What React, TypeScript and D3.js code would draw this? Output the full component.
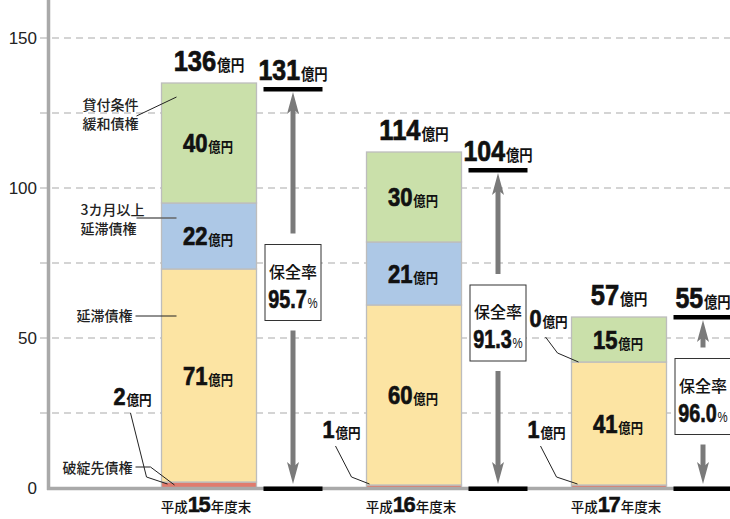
import React from "react";
import * as d3 from "d3";

// ---- data ----
const categories = ["平成15年度末", "平成16年度末", "平成17年度末"];
const eraPrefix = "平成";
const fiscalYears = ["15", "16", "17"];
const yearSuffix = "年度末";
const bankrupt = [2, 1, 1]; // 破綻先債権
const delinquent = [71, 60, 41]; // 延滞債権
const overdue3m = [22, 21, 0]; // 3カ月以上延滞債権
const restructured = [40, 30, 15]; // 貸付条件緩和債権
const totals = [136, 114, 57];
const secured = [131, 104, 55];
const coverageRates = ["95.7", "91.3", "96.0"];
const yTicks = [0, 50, 100, 150];
const gridValues = [25, 50, 75, 100, 125, 150];
const unit = "億円";

const keys = ["bankrupt", "delinquent", "overdue3m", "restructured"] as const;
const colors: Record<string, string> = {
  bankrupt: "#e07b6d",
  delinquent: "#fce4a3",
  overdue3m: "#adc8e6",
  restructured: "#cae0aa",
};

const table = categories.map((c, i) => ({
  cat: c,
  bankrupt: bankrupt[i],
  delinquent: delinquent[i],
  overdue3m: overdue3m[i],
  restructured: restructured[i],
}));

const W = 730;
const H = 519;
const NUM_FONT = "'Liberation Sans', Arial, sans-serif";
const JP_FONT = "'Noto Sans CJK JP', 'Noto Sans CJK SC', sans-serif";

function NumUnit(props: {
  x: number;
  y: number;
  num: string;
  numSize: number;
  unitSize: number;
  sx?: number;
  anchor?: string;
  unitText?: string;
  unitFont?: string;
  unitWeight?: number;
}) {
  const {
    x,
    y,
    num,
    numSize,
    unitSize,
    sx = 0.9,
    anchor = "middle",
    unitText = unit,
    unitFont = JP_FONT,
    unitWeight = 700,
  } = props;
  return (
    <g transform={`translate(${x},${y}) scale(${sx},1)`}>
      <text textAnchor={anchor as any} fill="#111">
        <tspan
          fontFamily={NUM_FONT}
          fontWeight={700}
          fontSize={numSize}
          stroke="#111"
          strokeWidth={0.7}
        >
          {num}
        </tspan>
        <tspan fontFamily={unitFont} fontWeight={unitWeight} fontSize={unitSize} dx={1}>
          {unitText}
        </tspan>
      </text>
    </g>
  );
}

function Arrow({ x, from, to }: { x: number; from: number; to: number }) {
  const dir = to < from ? -1 : 1;
  const headLen = 22;
  const barb = 6;
  const baseY = to - dir * headLen;
  const notchY = to - dir * (headLen - 5);
  return (
    <g fill="#7a7a7a" stroke="none">
      <line x1={x} x2={x} y1={from} y2={notchY} stroke="#7a7a7a" strokeWidth={5} />
      <path d={`M${x},${to} L${x + barb},${baseY} L${x},${notchY} L${x - barb},${baseY} Z`} />
    </g>
  );
}

export default function App() {
  const x = d3.scalePoint<string>().domain(categories).range([209, 619]);
  const y = d3.scaleLinear().domain([0, 150]).range([488, 38]);
  const barW = 95;
  const covOff = 84;
  const covW = 59;

  const series = d3.stack<any>().keys(keys as any)(table);

  const cx = (i: number) => x(categories[i]) as number;
  const xl = (i: number) => cx(i) - barW / 2;

  const segLabelKeys = ["delinquent", "overdue3m", "restructured"];
  const top0 = (k: string) => series.find((s) => s.key === k)![0];

  return (
    <svg
      width={W}
      height={H}
      style={{ position: "absolute", left: 0, top: 0, background: "#fff" }}
    >
      {/* grid */}
      {gridValues.map((v) => (
        <line
          key={v}
          x1={40}
          x2={W}
          y1={y(v)}
          y2={y(v)}
          stroke="#c6c6c6"
          strokeWidth={1.3}
          strokeDasharray="7,5"
        />
      ))}
      {/* y tick labels */}
      {yTicks.map((v) => (
        <text
          key={v}
          x={37}
          y={y(v)}
          dy="0.36em"
          textAnchor="end"
          fontFamily={NUM_FONT}
          fontSize={17}
          fill="#222"
        >
          {v}
        </text>
      ))}

      {/* bars */}
      {series.map((s) =>
        s.map((d, i) => (
          <rect
            key={s.key + i}
            x={xl(i)}
            y={y(d[1])}
            width={barW}
            height={Math.max(0, y(d[0]) - y(d[1]))}
            fill={colors[s.key]}
            stroke="#bdbdbd"
            strokeWidth={1.3}
          />
        ))
      )}

      {/* axes */}
      <line x1={48.5} x2={48.5} y1={0} y2={490} stroke="#a9a9a9" strokeWidth={3.5} />
      <line x1={47} x2={W} y1={488.5} y2={488.5} stroke="#a9a9a9" strokeWidth={3.5} />

      {/* segment labels */}
      {series
        .filter((s) => segLabelKeys.includes(s.key))
        .map((s) =>
          s.map((d, i) =>
            d[1] - d[0] > 0 ? (
              <NumUnit
                key={"sl" + s.key + i}
                x={cx(i) - 1}
                y={(y(d[0]) + y(d[1])) / 2 + 9}
                num={String(d[1] - d[0])}
                numSize={25}
                unitSize={14}
                sx={0.88}
              />
            ) : null
          )
        )}

      {/* totals */}
      {totals.map((t, i) => {
        const stackTop = series[series.length - 1][i][1];
        return (
          <NumUnit
            key={"t" + i}
            x={cx(i)}
            y={y(stackTop) - 12}
            num={String(t)}
            numSize={29}
            unitSize={15.5}
            sx={0.88}
          />
        );
      })}

      {/* secured amounts (coverage) */}
      {secured.map((v, i) => {
        const x0 = cx(i) + covOff - covW / 2;
        const xm = cx(i) + covOff;
        const lineY = y(v) - 6;
        const boxH = 76;
        const boxW = 56;
        const boxMid = (lineY + y(0)) / 2 - 6;
        const boxTop = boxMid - boxH / 2;
        const boxBot = boxMid + boxH / 2;
        return (
          <g key={"c" + i}>
            <rect x={x0} y={lineY - 2} width={covW} height={4.5} fill="#000" />
            <rect x={x0} y={y(0) - 1.5} width={covW} height={4.5} fill="#000" />
            <NumUnit
              x={xm}
              y={lineY - 9}
              num={String(v)}
              numSize={29}
              unitSize={15.5}
              sx={0.86}
            />
            <Arrow x={xm} from={boxTop - 11} to={lineY + 3} />
            <Arrow x={xm} from={boxBot + 10} to={y(0) - 4} />
            <rect
              x={xm - boxW / 2}
              y={boxTop}
              width={boxW}
              height={boxH}
              fill="#fff"
              stroke="#333"
              strokeWidth={1}
            />
            <text
              x={xm}
              y={boxTop + 33}
              textAnchor="middle"
              fontFamily={JP_FONT}
              fontWeight={500}
              fontSize={16}
              fill="#111"
            >
              保全率
            </text>
            <NumUnit
              x={xm}
              y={boxTop + 63}
              num={coverageRates[i]}
              numSize={26}
              unitSize={15}
              sx={0.76}
              unitText="%"
              unitFont={NUM_FONT}
              unitWeight={400}
            />
          </g>
        );
      })}

      {/* bankrupt (small) labels with leaders */}
      {bankrupt.map((v, i) => {
        const l = xl(i);
        const first = i === 0;
        const base = first ? y(0) - 83 : y(0) - 50;
        const sx0 = l - 31;
        const sy0 = base + 8;
        const mx = l - 15;
        const my = y(0) - 11;
        const ex = l + (i === 1 ? 3 : 6);
        const ey = y(0) - 4;
        return (
          <g key={"b" + i}>
            <NumUnit
              x={l - (first ? 29 : 25)}
              y={base}
              num={String(v)}
              numSize={24}
              unitSize={14}
              sx={0.9}
            />
            <polyline
              points={`${sx0},${sy0} ${mx},${my} ${ex},${ey}`}
              fill="none"
              stroke="#222"
              strokeWidth={1}
            />
          </g>
        );
      })}

      {/* zero-value overdue label */}
      {overdue3m.map((v, i) => {
        if (v !== 0) return null;
        const l = xl(i);
        const by = y(bankrupt[i] + delinquent[i]);
        return (
          <g key={"z" + i}>
            <NumUnit
              x={l - 23}
              y={by - 35}
              num={String(v)}
              numSize={24}
              unitSize={14}
              sx={0.9}
            />
            <polyline
              points={`${l - 26},${by - 25} ${l - 14},${by - 9} ${l + 7},${by}`}
              fill="none"
              stroke="#222"
              strokeWidth={1}
            />
          </g>
        );
      })}

      {/* series annotations on first bar */}
      {(() => {
        const l = xl(0);
        const tx = l - 79;
        const endX = l + 15;
        const gTop = y(top0("restructured")[1]);
        const bTop = y(top0("overdue3m")[1]);
        const yTop = y(top0("delinquent")[1]);
        const jp = {
          fontFamily: JP_FONT,
          fontSize: 14,
          fontWeight: 500,
          fill: "#222",
        } as any;
        const a1 = gTop + 14;
        const a2 = bTop + 15;
        const a3 = yTop + 47;
        return (
          <g>
            <text x={tx} y={a1 + 13} {...jp}>貸付条件</text>
            <text x={tx} y={a1 + 32} {...jp}>緩和債権</text>
            <line x1={l - 25} y1={a1 + 19} x2={endX} y2={a1} stroke="#222" strokeWidth={1} />

            <text x={tx - 2} y={a2 - 3} {...jp}>3カ月以上</text>
            <text x={tx - 2} y={a2 + 16} {...jp}>延滞債権</text>
            <line x1={l - 25} y1={a2} x2={endX} y2={a2} stroke="#666" strokeWidth={1.5} />

            <text x={l - 29} y={a3 + 5} textAnchor="end" {...jp}>延滞債権</text>
            <line x1={l - 26} y1={a3} x2={endX} y2={a3} stroke="#222" strokeWidth={1} />

            <text x={l - 29} y={y(0) - 15} textAnchor="end" {...jp}>破綻先債権</text>
            <polyline
              points={`${l - 26},${y(0) - 21} ${l - 11},${y(0) - 21} ${l + 13},${y(0) - 3}`}
              fill="none"
              stroke="#222"
              strokeWidth={1}
            />
          </g>
        );
      })()}

      {/* category labels */}
      {categories.map((c, i) => (
        <text
          key={c}
          x={cx(i) - 3}
          y={512}
          textAnchor="middle"
          fill="#111"
          fontFamily={JP_FONT}
          fontWeight={500}
          fontSize={13.5}
        >
          <tspan>{eraPrefix}</tspan>
          <tspan
            fontFamily={NUM_FONT}
            fontWeight={700}
            fontSize={22}
            letterSpacing={-1.5}
            stroke="#111"
            strokeWidth={0.5}
          >
            {fiscalYears[i]}
          </tspan>
          <tspan dx={1.5}>{yearSuffix}</tspan>
        </text>
      ))}
    </svg>
  );
}
